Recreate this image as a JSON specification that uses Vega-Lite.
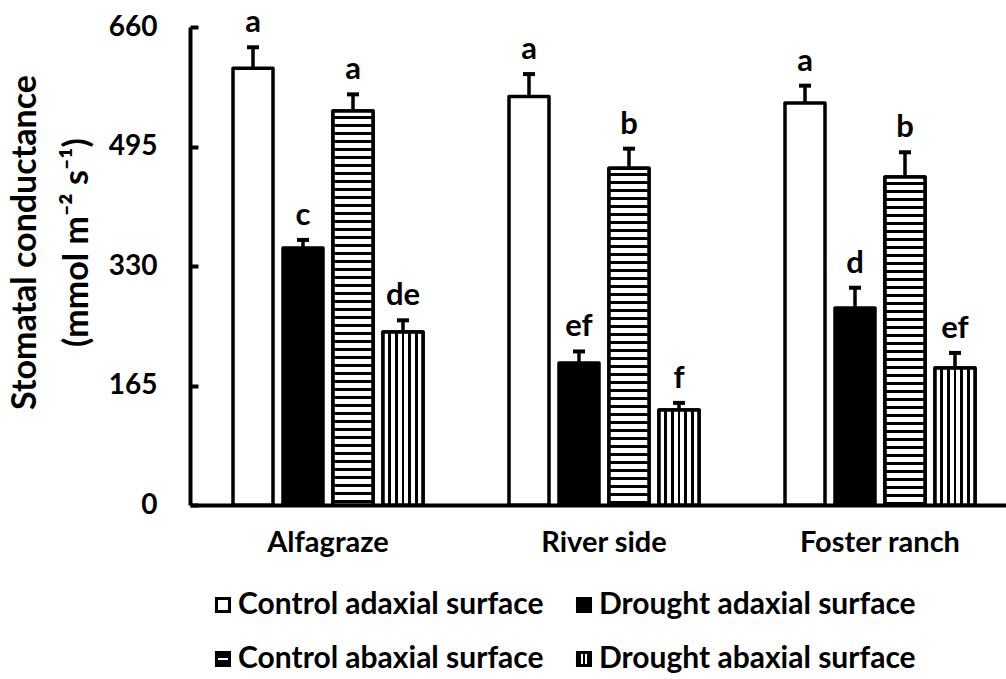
{
  "$schema": "https://vega.github.io/schema/vega-lite/v6.json",
  "width": 816,
  "height": 478,
  "autosize": {"type": "none"},
  "padding": {"left": 190, "top": 27, "right": 0, "bottom": 174},
  "background": "white",
  "config": {"view": {"stroke": null}, "font": "Lato"},
  "params": [
    {"name": "lh", "value": {"gradient": "linear", "x1": 0, "y1": 0, "x2": 0, "y2": 1, "stops": [{"offset": 0, "color": "#000"}, {"offset": 0.4, "color": "#000"}, {"offset": 0.4, "color": "#fff"}, {"offset": 0.6, "color": "#fff"}, {"offset": 0.6, "color": "#000"}, {"offset": 1, "color": "#000"}]}},
    {"name": "lv", "value": {"gradient": "linear", "x1": 0, "y1": 0, "x2": 1, "y2": 0, "stops": [{"offset": 0, "color": "#000"}, {"offset": 0.3, "color": "#000"}, {"offset": 0.3, "color": "#fff"}, {"offset": 0.43, "color": "#fff"}, {"offset": 0.43, "color": "#000"}, {"offset": 0.57, "color": "#000"}, {"offset": 0.57, "color": "#fff"}, {"offset": 0.7, "color": "#fff"}, {"offset": 0.7, "color": "#000"}, {"offset": 1, "color": "#000"}]}},
    {"name": "hs", "value": [
      {"offset":0,"color":"#fff"},
      {"offset":0.0116,"color":"#fff"},{"offset":0.0116,"color":"#000"},{"offset":0.02,"color":"#000"},{"offset":0.02,"color":"#fff"},
      {"offset":0.0316,"color":"#fff"},{"offset":0.0316,"color":"#000"},{"offset":0.04,"color":"#000"},{"offset":0.04,"color":"#fff"},
      {"offset":0.0516,"color":"#fff"},{"offset":0.0516,"color":"#000"},{"offset":0.06,"color":"#000"},{"offset":0.06,"color":"#fff"},
      {"offset":0.0716,"color":"#fff"},{"offset":0.0716,"color":"#000"},{"offset":0.08,"color":"#000"},{"offset":0.08,"color":"#fff"},
      {"offset":0.0916,"color":"#fff"},{"offset":0.0916,"color":"#000"},{"offset":0.1,"color":"#000"},{"offset":0.1,"color":"#fff"},
      {"offset":0.1116,"color":"#fff"},{"offset":0.1116,"color":"#000"},{"offset":0.12,"color":"#000"},{"offset":0.12,"color":"#fff"},
      {"offset":0.1316,"color":"#fff"},{"offset":0.1316,"color":"#000"},{"offset":0.14,"color":"#000"},{"offset":0.14,"color":"#fff"},
      {"offset":0.1516,"color":"#fff"},{"offset":0.1516,"color":"#000"},{"offset":0.16,"color":"#000"},{"offset":0.16,"color":"#fff"},
      {"offset":0.1716,"color":"#fff"},{"offset":0.1716,"color":"#000"},{"offset":0.18,"color":"#000"},{"offset":0.18,"color":"#fff"},
      {"offset":0.1916,"color":"#fff"},{"offset":0.1916,"color":"#000"},{"offset":0.2,"color":"#000"},{"offset":0.2,"color":"#fff"},
      {"offset":0.2116,"color":"#fff"},{"offset":0.2116,"color":"#000"},{"offset":0.22,"color":"#000"},{"offset":0.22,"color":"#fff"},
      {"offset":0.2316,"color":"#fff"},{"offset":0.2316,"color":"#000"},{"offset":0.24,"color":"#000"},{"offset":0.24,"color":"#fff"},
      {"offset":0.2516,"color":"#fff"},{"offset":0.2516,"color":"#000"},{"offset":0.26,"color":"#000"},{"offset":0.26,"color":"#fff"},
      {"offset":0.2716,"color":"#fff"},{"offset":0.2716,"color":"#000"},{"offset":0.28,"color":"#000"},{"offset":0.28,"color":"#fff"},
      {"offset":0.2916,"color":"#fff"},{"offset":0.2916,"color":"#000"},{"offset":0.3,"color":"#000"},{"offset":0.3,"color":"#fff"},
      {"offset":0.3116,"color":"#fff"},{"offset":0.3116,"color":"#000"},{"offset":0.32,"color":"#000"},{"offset":0.32,"color":"#fff"},
      {"offset":0.3316,"color":"#fff"},{"offset":0.3316,"color":"#000"},{"offset":0.34,"color":"#000"},{"offset":0.34,"color":"#fff"},
      {"offset":0.3516,"color":"#fff"},{"offset":0.3516,"color":"#000"},{"offset":0.36,"color":"#000"},{"offset":0.36,"color":"#fff"},
      {"offset":0.3716,"color":"#fff"},{"offset":0.3716,"color":"#000"},{"offset":0.38,"color":"#000"},{"offset":0.38,"color":"#fff"},
      {"offset":0.3916,"color":"#fff"},{"offset":0.3916,"color":"#000"},{"offset":0.4,"color":"#000"},{"offset":0.4,"color":"#fff"},
      {"offset":0.4116,"color":"#fff"},{"offset":0.4116,"color":"#000"},{"offset":0.42,"color":"#000"},{"offset":0.42,"color":"#fff"},
      {"offset":0.4316,"color":"#fff"},{"offset":0.4316,"color":"#000"},{"offset":0.44,"color":"#000"},{"offset":0.44,"color":"#fff"},
      {"offset":0.4516,"color":"#fff"},{"offset":0.4516,"color":"#000"},{"offset":0.46,"color":"#000"},{"offset":0.46,"color":"#fff"},
      {"offset":0.4716,"color":"#fff"},{"offset":0.4716,"color":"#000"},{"offset":0.48,"color":"#000"},{"offset":0.48,"color":"#fff"},
      {"offset":0.4916,"color":"#fff"},{"offset":0.4916,"color":"#000"},{"offset":0.5,"color":"#000"},{"offset":0.5,"color":"#fff"},
      {"offset":0.5116,"color":"#fff"},{"offset":0.5116,"color":"#000"},{"offset":0.52,"color":"#000"},{"offset":0.52,"color":"#fff"},
      {"offset":0.5316,"color":"#fff"},{"offset":0.5316,"color":"#000"},{"offset":0.54,"color":"#000"},{"offset":0.54,"color":"#fff"},
      {"offset":0.5516,"color":"#fff"},{"offset":0.5516,"color":"#000"},{"offset":0.56,"color":"#000"},{"offset":0.56,"color":"#fff"},
      {"offset":0.5716,"color":"#fff"},{"offset":0.5716,"color":"#000"},{"offset":0.58,"color":"#000"},{"offset":0.58,"color":"#fff"},
      {"offset":0.5916,"color":"#fff"},{"offset":0.5916,"color":"#000"},{"offset":0.6,"color":"#000"},{"offset":0.6,"color":"#fff"},
      {"offset":0.6116,"color":"#fff"},{"offset":0.6116,"color":"#000"},{"offset":0.62,"color":"#000"},{"offset":0.62,"color":"#fff"},
      {"offset":0.6316,"color":"#fff"},{"offset":0.6316,"color":"#000"},{"offset":0.64,"color":"#000"},{"offset":0.64,"color":"#fff"},
      {"offset":0.6516,"color":"#fff"},{"offset":0.6516,"color":"#000"},{"offset":0.66,"color":"#000"},{"offset":0.66,"color":"#fff"},
      {"offset":0.6716,"color":"#fff"},{"offset":0.6716,"color":"#000"},{"offset":0.68,"color":"#000"},{"offset":0.68,"color":"#fff"},
      {"offset":0.6916,"color":"#fff"},{"offset":0.6916,"color":"#000"},{"offset":0.7,"color":"#000"},{"offset":0.7,"color":"#fff"},
      {"offset":0.7116,"color":"#fff"},{"offset":0.7116,"color":"#000"},{"offset":0.72,"color":"#000"},{"offset":0.72,"color":"#fff"},
      {"offset":0.7316,"color":"#fff"},{"offset":0.7316,"color":"#000"},{"offset":0.74,"color":"#000"},{"offset":0.74,"color":"#fff"},
      {"offset":0.7516,"color":"#fff"},{"offset":0.7516,"color":"#000"},{"offset":0.76,"color":"#000"},{"offset":0.76,"color":"#fff"},
      {"offset":0.7716,"color":"#fff"},{"offset":0.7716,"color":"#000"},{"offset":0.78,"color":"#000"},{"offset":0.78,"color":"#fff"},
      {"offset":0.7916,"color":"#fff"},{"offset":0.7916,"color":"#000"},{"offset":0.8,"color":"#000"},{"offset":0.8,"color":"#fff"},
      {"offset":0.8116,"color":"#fff"},{"offset":0.8116,"color":"#000"},{"offset":0.82,"color":"#000"},{"offset":0.82,"color":"#fff"},
      {"offset":0.8316,"color":"#fff"},{"offset":0.8316,"color":"#000"},{"offset":0.84,"color":"#000"},{"offset":0.84,"color":"#fff"},
      {"offset":0.8516,"color":"#fff"},{"offset":0.8516,"color":"#000"},{"offset":0.86,"color":"#000"},{"offset":0.86,"color":"#fff"},
      {"offset":0.8716,"color":"#fff"},{"offset":0.8716,"color":"#000"},{"offset":0.88,"color":"#000"},{"offset":0.88,"color":"#fff"},
      {"offset":0.8916,"color":"#fff"},{"offset":0.8916,"color":"#000"},{"offset":0.9,"color":"#000"},{"offset":0.9,"color":"#fff"},
      {"offset":0.9116,"color":"#fff"},{"offset":0.9116,"color":"#000"},{"offset":0.92,"color":"#000"},{"offset":0.92,"color":"#fff"},
      {"offset":0.9316,"color":"#fff"},{"offset":0.9316,"color":"#000"},{"offset":0.94,"color":"#000"},{"offset":0.94,"color":"#fff"},
      {"offset":0.9516,"color":"#fff"},{"offset":0.9516,"color":"#000"},{"offset":0.96,"color":"#000"},{"offset":0.96,"color":"#fff"},
      {"offset":0.9716,"color":"#fff"},{"offset":0.9716,"color":"#000"},{"offset":0.98,"color":"#000"},{"offset":0.98,"color":"#fff"},
      {"offset":0.9916,"color":"#fff"},{"offset":0.9916,"color":"#000"},{"offset":1,"color":"#000"}
    ]}
  ],
  "data": {"values": [
    {"site":"Alfagraze","series":"Control adaxial surface","value":603,"err":632,"letter":"a"},
    {"site":"Alfagraze","series":"Drought adaxial surface","value":355,"err":366,"letter":"c"},
    {"site":"Alfagraze","series":"Control abaxial surface","value":544,"err":567,"letter":"a"},
    {"site":"Alfagraze","series":"Drought abaxial surface","value":239,"err":255,"letter":"de"},
    {"site":"River side","series":"Control adaxial surface","value":564,"err":595,"letter":"a"},
    {"site":"River side","series":"Drought adaxial surface","value":196,"err":212,"letter":"ef"},
    {"site":"River side","series":"Control abaxial surface","value":465,"err":492,"letter":"b"},
    {"site":"River side","series":"Drought abaxial surface","value":131,"err":141,"letter":"f"},
    {"site":"Foster ranch","series":"Control adaxial surface","value":555,"err":579,"letter":"a"},
    {"site":"Foster ranch","series":"Drought adaxial surface","value":272,"err":300,"letter":"d"},
    {"site":"Foster ranch","series":"Control abaxial surface","value":453,"err":487,"letter":"b"},
    {"site":"Foster ranch","series":"Drought abaxial surface","value":189,"err":210,"letter":"ef"}
  ]},
  "encoding": {
    "x": {
      "field": "site", "type": "nominal",
      "sort": ["Alfagraze", "River side", "Foster ranch"],
      "scale": {"range": [0, 828], "paddingInner": 0, "paddingOuter": 0},
      "axis": {"title": null, "labelFont": "Lato", "labelFontSize": 29, "labelFontWeight": "bold", "labelColor": "black", "labelAngle": 0, "ticks": false, "labelPadding": 23, "domainWidth": 4, "domainColor": "black"}
    },
    "xOffset": {
      "field": "series", "type": "nominal",
      "sort": ["Control adaxial surface", "Drought adaxial surface", "Control abaxial surface", "Drought abaxial surface"],
      "scale": {"paddingInner": 0.2, "paddingOuter": 0.86}
    },
    "y": {
      "field": "value", "type": "quantitative",
      "scale": {"domain": [0, 660], "nice": false},
      "axis": {
        "values": [0, 165, 330, 495, 660],
        "title": ["Stomatal conductance", "(mmol m⁻² s⁻¹)"],
        "titleFont": "Lato", "titleFontSize": 34, "titleFontWeight": "bold", "titleColor": "black",
        "titleAlign": "center", "titleBaseline": "top", "titleAngle": 270,
        "titleX": -182, "titleY": 215, "titleLineHeight": 52,
        "labelFont": "Lato", "labelFontSize": 28, "labelFontWeight": "bold", "labelColor": "black",
        "labelPadding": 41, "tickSize": -8, "tickWidth": 4, "tickColor": "black",
        "domainWidth": 4, "domainColor": "black", "grid": false
      }
    }
  },
  "layer": [
    {
      "mark": {"type": "bar", "stroke": "black", "strokeWidth": 3.5, "strokeJoin": "round"},
      "encoding": {
        "fill": {
          "field": "series", "type": "nominal",
          "scale": {"domain": ["Control adaxial surface", "Drought adaxial surface", "Control abaxial surface", "Drought abaxial surface"], "range": ["white", "black", {"expr": "lh"}, {"expr": "lv"}]},
          "legend": {
            "title": null, "orient": "none", "legendX": 18, "legendY": 563,
            "columns": 2, "direction": "horizontal", "padding": 0,
            "labelFont": "Lato", "labelFontSize": 30, "labelFontWeight": "bold", "labelColor": "black", "labelLimit": 0, "labelOffset": 0,
            "symbolType": "square", "symbolSize": 170, "symbolStrokeWidth": 3, "symbolStrokeColor": "black", "symbolOpacity": 1,
            "rowPadding": 24, "columnPadding": 25
          }
        }
      }
    },
    {
      "transform": [{"filter": "datum.series === 'Control abaxial surface'"}],
      "mark": {"type": "bar", "stroke": "black", "strokeWidth": 3.5, "strokeJoin": "round",
        "fill": {"expr": "{gradient: 'linear', x1: 0, y1: 0, x2: 0, y2: (datum.site === 'Alfagraze' ? 1.0152 : (datum.site === 'River side' ? 1.1877 : 1.2192)), stops: hs}"}}
    },
    {
      "transform": [{"filter": "datum.series === 'Drought abaxial surface'"}],
      "mark": {"type": "bar", "stroke": "black", "strokeWidth": 3.5, "strokeJoin": "round",
        "fill": {"gradient": "linear", "x1": 0, "y1": 0, "x2": 1, "y2": 0, "stops": [
          {"offset": 0, "color": "#fff"}, {"offset": 0.133, "color": "#fff"}, {"offset": 0.133, "color": "#000"}, {"offset": 0.2, "color": "#000"},
          {"offset": 0.2, "color": "#fff"}, {"offset": 0.3, "color": "#fff"}, {"offset": 0.3, "color": "#000"}, {"offset": 0.367, "color": "#000"},
          {"offset": 0.367, "color": "#fff"}, {"offset": 0.466, "color": "#fff"}, {"offset": 0.466, "color": "#000"}, {"offset": 0.534, "color": "#000"},
          {"offset": 0.534, "color": "#fff"}, {"offset": 0.633, "color": "#fff"}, {"offset": 0.633, "color": "#000"}, {"offset": 0.7, "color": "#000"},
          {"offset": 0.7, "color": "#fff"}, {"offset": 0.8, "color": "#fff"}, {"offset": 0.8, "color": "#000"}, {"offset": 0.867, "color": "#000"},
          {"offset": 0.867, "color": "#fff"}, {"offset": 1, "color": "#fff"}
        ]}}
    },
    {
      "mark": {"type": "rule", "color": "black", "strokeWidth": 3.5},
      "encoding": {"y2": {"field": "err"}}
    },
    {
      "mark": {"type": "tick", "color": "black", "size": 12, "thickness": 4, "opacity": 1},
      "encoding": {"y": {"field": "err", "type": "quantitative"}}
    },
    {
      "mark": {"type": "text", "font": "Lato", "fontSize": 31, "fontWeight": "bold", "baseline": "alphabetic", "dy": -15, "color": "black"},
      "encoding": {"y": {"field": "err", "type": "quantitative"}, "text": {"field": "letter"}}
    }
  ]
}
